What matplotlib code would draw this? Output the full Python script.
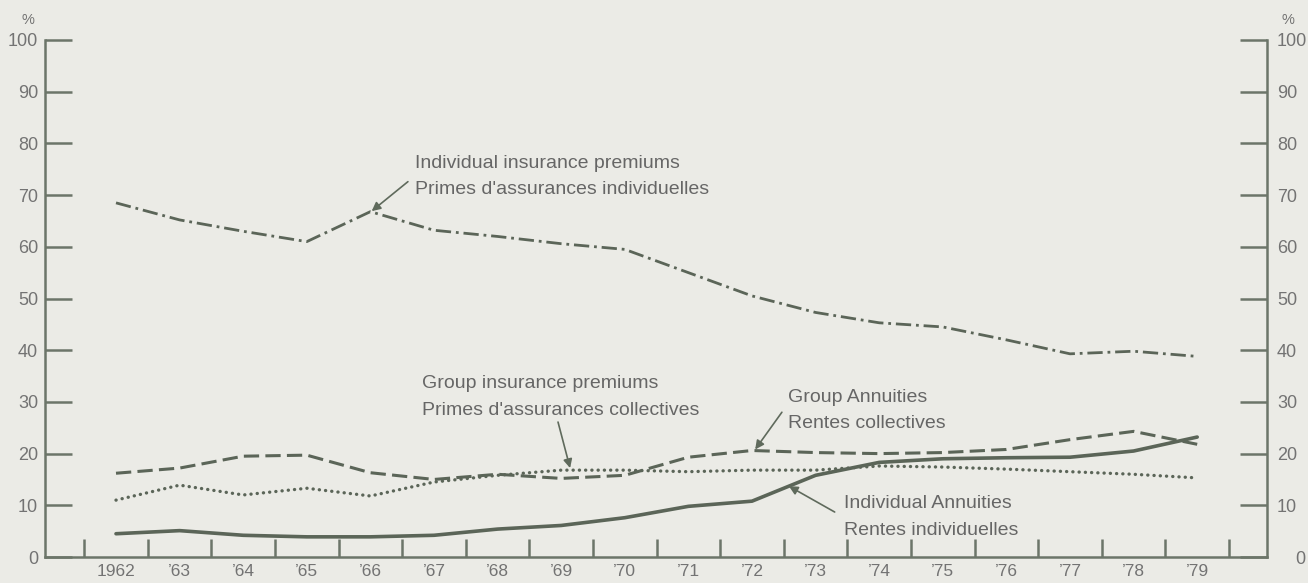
import matplotlib
matplotlib.use("Agg")
import matplotlib.pyplot as plt
from matplotlib.ticker import FixedLocator, NullFormatter, FixedFormatter
import matplotlib.transforms as mtransforms

# ---------------- data ----------------
years = [1962, 1963, 1964, 1965, 1966, 1967, 1968, 1969, 1970,
         1971, 1972, 1973, 1974, 1975, 1976, 1977, 1978, 1979]
year_labels = ["1962", "’63", "’64", "’65", "’66", "’67", "’68", "’69", "’70",
               "’71", "’72", "’73", "’74", "’75", "’76", "’77", "’78", "’79"]
ind_premiums = [68.5, 65.2, 63.0, 61.0, 66.8, 63.2, 62.0, 60.6, 59.5,
                55.0, 50.5, 47.3, 45.3, 44.5, 42.0, 39.3, 39.8, 38.8]
group_annuities = [16.2, 17.2, 19.5, 19.7, 16.3, 15.0, 16.0, 15.2, 15.8,
                   19.3, 20.6, 20.2, 20.0, 20.2, 20.8, 22.7, 24.3, 21.8]
group_premiums = [11.0, 13.9, 12.0, 13.3, 11.8, 14.5, 15.8, 16.8, 16.8,
                  16.5, 16.8, 16.8, 17.6, 17.4, 17.0, 16.5, 16.0, 15.3]
ind_annuities = [4.5, 5.1, 4.2, 3.9, 3.9, 4.2, 5.4, 6.1, 7.6,
                 9.8, 10.8, 15.8, 18.3, 19.0, 19.2, 19.3, 20.5, 23.2]
y_ticks = [0, 10, 20, 30, 40, 50, 60, 70, 80, 90, 100]

# ---------------- style ----------------
plt.rcParams['font.family'] = ['Liberation Sans', 'DejaVu Sans']
plt.rcParams['lines.scale_dashes'] = False
BG = '#ebebe6'
LINE = '#5b6558'
AXC = '#6c7569'
TXT = '#666666'
TICKTXT = '#737373'

W, H = 1308, 583
fig = plt.figure(figsize=(W / 100, H / 100), dpi=100, facecolor=BG)

left_px, right_px, bottom_px, top_px = 45, 1267, 557, 40
ax = fig.add_axes([left_px / W, 1 - bottom_px / H,
                   (right_px - left_px) / W, (bottom_px - top_px) / H])
ax.set_facecolor(BG)

px_per_year = 63.6
x0 = 1962 + (left_px - 116) / px_per_year
x1 = 1962 + (right_px - 116) / px_per_year
ax.set_xlim(x0, x1)
ax.set_ylim(0, 100)

# ---------------- series ----------------
ax.plot(years, ind_premiums, color=LINE, lw=2.0, dashes=(11, 3.5, 2, 3.5))
ax.plot(years, group_annuities, color=LINE, lw=2.2, dashes=(11, 4.5))
ax.plot(years, group_premiums, color=LINE, lw=2.4, dashes=(0.1, 4.4),
        dash_capstyle='round')
ax.plot(years, ind_annuities, color=LINE, lw=2.6, solid_capstyle='round',
        solid_joinstyle='round')

# ---------------- axes ----------------
ax.spines['top'].set_visible(False)
for s in ['left', 'right', 'bottom']:
    ax.spines[s].set_color(AXC)
    ax.spines[s].set_linewidth(1.8)

ax.yaxis.set_major_locator(FixedLocator(y_ticks))
ax.yaxis.set_major_formatter(FixedFormatter([str(v) for v in y_ticks]))
ax.tick_params(axis='y', which='major', direction='in', length=19.5, width=1.8,
               color=AXC, left=True, right=True, labelleft=True, labelright=True,
               labelsize=13, labelcolor=TICKTXT, pad=5)

bounds = [y - 0.5 for y in years] + [years[-1] + 0.5]
ax.xaxis.set_major_locator(FixedLocator(bounds))
ax.xaxis.set_major_formatter(NullFormatter())
ax.xaxis.set_minor_locator(FixedLocator(years))
ax.xaxis.set_minor_formatter(FixedFormatter(year_labels))
ax.tick_params(axis='x', which='major', direction='in', length=13, width=1.8,
               color=AXC)
ax.tick_params(axis='x', which='minor', length=0, labelsize=12.5,
               labelcolor=TICKTXT, pad=5)

fig.canvas.draw()
for t in ax.yaxis.get_major_ticks():
    # right-hand labels sit a little further from the axis
    t.label2.set_transform(t.label2.get_transform() +
                           mtransforms.ScaledTranslation(3 / 100, 0, fig.dpi_scale_trans))
    if t.label2.get_text() == '0':
        t.label2.set_transform(t.label2.get_transform() +
                               mtransforms.ScaledTranslation(18 / 100, 0, fig.dpi_scale_trans))

fig.text(28 / W, 1 - 20 / H, '%', fontsize=10.5, color=TICKTXT, ha='center', va='center')
fig.text(1288 / W, 1 - 20 / H, '%', fontsize=10.5, color=TICKTXT, ha='center', va='center')

# ---------------- annotations ----------------
fs = 14
arrow = dict(arrowstyle='-|>', color='#5f6a5c', lw=1.2, mutation_scale=13,
             shrinkA=0, shrinkB=0)

ax.text(1966.70, 76.2, 'Individual insurance premiums', fontsize=fs, color=TXT, va='center')
ax.text(1966.70, 71.0, "Primes d'assurances individuelles", fontsize=fs, color=TXT, va='center')
ax.annotate('', xy=(1966.02, 66.9), xytext=(1966.59, 72.6), arrowprops=arrow)

ax.text(1966.81, 33.5, 'Group insurance premiums', fontsize=fs, color=TXT, va='center')
ax.text(1966.81, 28.4, "Primes d'assurances collectives", fontsize=fs, color=TXT, va='center')
ax.annotate('', xy=(1969.14, 17.2), xytext=(1968.95, 26.1), arrowprops=arrow)

ax.text(1972.57, 30.9, 'Group Annuities', fontsize=fs, color=TXT, va='center')
ax.text(1972.57, 25.9, 'Rentes collectives', fontsize=fs, color=TXT, va='center')
ax.annotate('', xy=(1972.05, 20.8), xytext=(1972.47, 28.0), arrowprops=arrow)

ax.text(1973.45, 10.4, 'Individual Annuities', fontsize=fs, color=TXT, va='center')
ax.text(1973.45, 5.2, 'Rentes individuelles', fontsize=fs, color=TXT, va='center')
ax.annotate('', xy=(1972.58, 13.7), xytext=(1973.30, 8.7), arrowprops=arrow)

fig.savefig('out.png', dpi=100, facecolor=BG)
